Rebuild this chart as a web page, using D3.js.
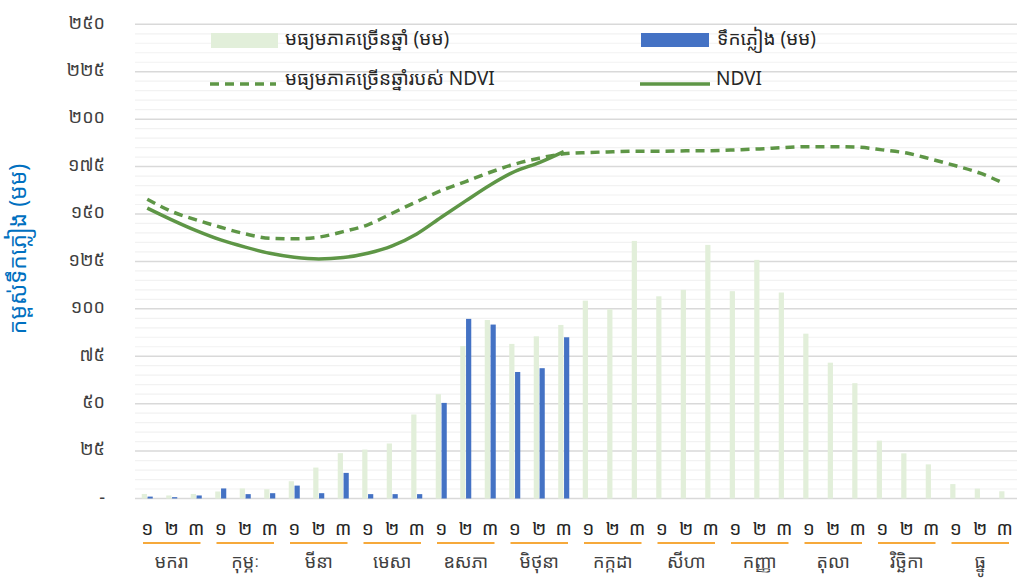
<!DOCTYPE html>
<html>
<head>
<meta charset="utf-8">
<script src="https://cdn.jsdelivr.net/npm/d3@7"></script>
<style>
  html, body { margin: 0; padding: 0; background: #fff; }
  svg { display: block; }
  text { font-family: "Noto Sans Khmer", "Khmer OS", "Khmer OS System", "Noto Sans", sans-serif; }
</style>
</head>
<body>
<svg id="chart" width="1017" height="580"></svg>
<script>
// ---- data ----
const months = ["មករា", "កុម្ភៈ", "មីនា", "មេសា", "ឧសភា", "មិថុនា", "កក្កដា", "សីហា", "កញ្ញា", "តុលា", "វិច្ឆិកា", "ធ្នូ"];
const dekadLabels = ["១", "២", "៣"];
const yTickValues = [0, 25, 50, 75, 100, 125, 150, 175, 200, 225, 250];
const yTickLabels = ["-", "២៥", "៥០", "៧៥", "១០០", "១២៥", "១៥០", "១៧៥", "២០០", "២២៥", "២៥០"];
const avgRain = [2.4, 1.6, 2.4, 3.7, 5.3, 4.9, 9.1, 16.3, 23.9, 25.8, 29.0, 44.3, 55.0, 80.4, 94.1, 81.5, 85.5, 91.5,
                 104.3, 99.8, 135.8, 106.6, 110.0, 133.7, 109.3, 125.8, 108.6, 86.9, 71.6, 60.8, 30.5, 23.8, 18.0, 7.6, 5.2, 3.8];
const rain = [1.0, 0.7, 1.6, 5.3, 2.3, 2.8, 6.8, 2.8, 13.5, 2.3, 2.3, 2.3, 50.4, 94.7, 91.7, 66.7, 68.7, 85.0];
const ndvi = [153.1, 146.9, 141.2, 136.3, 132.5, 129.3, 127.2, 126.3, 127.0, 129.3, 133.2, 139.5, 148.3, 156.9, 165.3, 172.4, 177.1, 182.9];
const ndviAvg = [157.8, 151.3, 146.9, 143.0, 139.5, 137.2, 136.9, 137.8, 140.7, 144.3, 150.4, 156.5, 162.3, 167.1, 172.0, 176.3, 179.4, 181.7,
                 182.4, 182.8, 183.1, 183.1, 183.3, 183.4, 183.8, 184.3, 185.0, 185.5, 185.5, 185.2, 183.8, 182.1, 178.9, 175.4, 171.5, 165.9];
const legendLabels = ["មធ្យមភាគច្រើនឆ្នាំ (មម)", "ទឹកភ្លៀង (មម)", "មធ្យមភាគច្រើនឆ្នាំរបស់ NDVI", "NDVI"];
const yTitle = "កម្ពស់ទឹកភ្លៀង (មម)";

// ---- styles ----
const C = { avg: "#E2EFDA", rain: "#4472C4", line: "#5E9646", major: "#D9D9D9", minor: "#F2F2F2",
            text: "#404040", orange: "#F6A93B", title: "#0070C0" };

const svg = d3.select("#chart");
const M = { left: 135, right: 1017, top: 24.3, bottom: 498.5 };

const idx = d3.range(36);
const x = d3.scaleBand().domain(idx).range([M.left, M.right]).paddingInner(0.55).paddingOuter(0.275);
const xSub = d3.scaleBand().domain(["avg", "rain"]).range([0, x.bandwidth()]);
const y = d3.scaleLinear().domain([0, 250]).range([M.bottom, M.top]);
const cx = i => x(i) + x.bandwidth() / 2;

// minor grid
svg.append("g").selectAll("line").data(d3.range(0, 251, 5).filter(v => v % 25 !== 0)).join("line")
  .attr("x1", M.left).attr("x2", M.right).attr("y1", d => y(d)).attr("y2", d => y(d))
  .attr("stroke", C.minor).attr("stroke-width", 1.2);
// major grid
svg.append("g").selectAll("line").data(yTickValues).join("line")
  .attr("x1", M.left).attr("x2", M.right).attr("y1", d => y(d)).attr("y2", d => y(d))
  .attr("stroke", C.major).attr("stroke-width", 1.5);

// y axis labels
const yAxis = d3.axisLeft(y).tickValues(yTickValues).tickSize(0).tickPadding(0)
  .tickFormat(d => yTickLabels[yTickValues.indexOf(d)]);
const gy = svg.append("g").attr("transform", "translate(105,-2)").call(yAxis);
gy.select(".domain").remove();
gy.selectAll("text").attr("font-size", 18).attr("fill", C.text)
  .style("font-family", '"Noto Sans Khmer", "Khmer OS", sans-serif');

// y title
svg.append("text").attr("transform", "translate(26,249) rotate(-90)")
  .attr("text-anchor", "middle").attr("font-size", 23).attr("fill", C.title).text(yTitle);

// bars
svg.append("g").selectAll("rect").data(avgRain).join("rect")
  .attr("x", (d, i) => x(i) + xSub("avg")).attr("width", xSub.bandwidth() - 0.3)
  .attr("y", d => y(d)).attr("height", d => y(0) - y(d)).attr("fill", C.avg);
svg.append("g").selectAll("rect").data(rain).join("rect")
  .attr("x", (d, i) => x(i) + xSub("rain") + 0.3).attr("width", xSub.bandwidth() - 0.3)
  .attr("y", d => y(d)).attr("height", d => y(0) - y(d)).attr("fill", C.rain);

// lines
const line = d3.line().x((d, i) => cx(i)).y(d => y(d)).curve(d3.curveMonotoneX);
svg.append("path").datum(ndviAvg).attr("d", line).attr("fill", "none")
  .attr("stroke", C.line).attr("stroke-width", 3.5).attr("stroke-dasharray", "9,6");
svg.append("path").datum(ndvi).attr("d", line).attr("fill", "none")
  .attr("stroke", C.line).attr("stroke-width", 3.5);

// x axis: dekads
const gx = svg.append("g");
gx.selectAll("text.dk").data(idx).join("text").attr("class", "dk")
  .attr("x", i => cx(i)).attr("y", 530).attr("text-anchor", "middle").attr("dominant-baseline", "middle")
  .attr("font-size", 19).attr("fill", "#262626").text(i => dekadLabels[i % 3]);
// month underline + label
months.forEach((m, k) => {
  const x0 = x(k * 3) - x.step() * x.paddingOuter();
  const x1 = x0 + x.step() * 3;
  gx.append("line").attr("x1", x0 + 8).attr("x2", x1 - 8).attr("y1", 543).attr("y2", 543)
    .attr("stroke", C.orange).attr("stroke-width", 2);
  gx.append("text").attr("x", (x0 + x1) / 2).attr("y", 563).attr("text-anchor", "middle")
    .attr("dominant-baseline", "middle").attr("font-size", 18).attr("fill", C.text).text(m);
});

// legend
const lg = svg.append("g");
lg.append("rect").attr("x", 211).attr("y", 33).attr("width", 67).attr("height", 15).attr("fill", C.avg);
lg.append("rect").attr("x", 641).attr("y", 33).attr("width", 68).attr("height", 14).attr("fill", C.rain);
lg.append("line").attr("x1", 210).attr("x2", 276).attr("y1", 84).attr("y2", 84)
  .attr("stroke", C.line).attr("stroke-width", 3.5).attr("stroke-dasharray", "9,6");
lg.append("line").attr("x1", 640).attr("x2", 710).attr("y1", 84).attr("y2", 84)
  .attr("stroke", C.line).attr("stroke-width", 3.5);
const lpos = [[285, 40], [717, 40], [285, 80], [716, 80]];
legendLabels.forEach((t, i) => {
  lg.append("text").attr("x", lpos[i][0]).attr("y", lpos[i][1]).attr("dominant-baseline", "middle")
    .attr("font-size", 19).attr("fill", "#262626").text(t);
});
</script>
</body>
</html>
